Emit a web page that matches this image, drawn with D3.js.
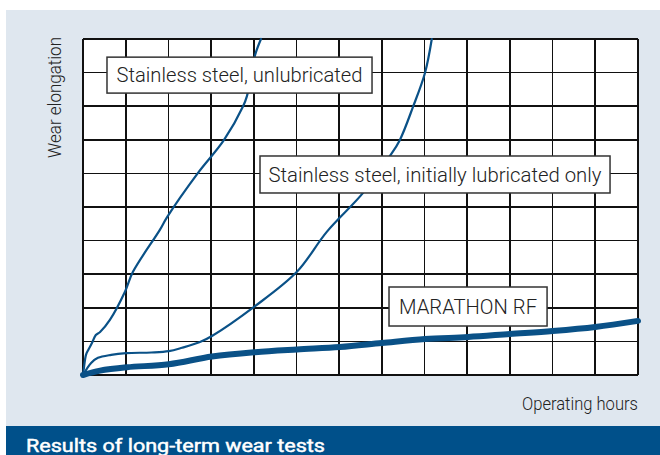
<!DOCTYPE html>
<html>
<head>
<meta charset="utf-8">
<script src="https://cdn.jsdelivr.net/npm/d3@7"></script>
<style>
  html, body { margin: 0; padding: 0; background: #ffffff; }
  svg { display: block; }
  text { font-family: Roboto, "Liberation Sans", "DejaVu Sans", sans-serif; }
</style>
</head>
<body>
<svg id="chart" width="660" height="455"></svg>
<script>
// ---- Data (grid units: columns of operating hours, rows of wear elongation) ----
const xGrid = d3.range(0, 14);   // 13 columns
const yGrid = d3.range(0, 11);   // 10 rows

const unlubX = [0, 0.02, 0.07, 0.12, 0.21, 0.30, 0.40, 0.63, 0.98, 1.17, 1.80, 1.97, 2.69, 3.30, 3.75, 3.84, 4.03, 4.17];
const unlubY = [0, 0.20, 0.60, 0.74, 0.95, 1.19, 1.28, 1.64, 2.47, 3.07, 4.32, 4.70, 6.01, 6.99, 8.00, 8.30, 9.52, 10.0];

const lubX = [0, 0.19, 0.35, 0.66, 1.01, 1.60, 2.01, 2.32, 2.74, 3.02, 4.03, 5.01, 5.71, 6.56, 7.19, 7.42, 7.73, 8.01, 8.17];
const lubY = [0, 0.36, 0.51, 0.60, 0.65, 0.67, 0.71, 0.81, 0.98, 1.16, 2.05, 3.07, 4.26, 5.42, 6.52, 6.99, 7.98, 8.99, 10.0];

const marX = [0, 0.40, 1.03, 2.01, 3.02, 4.03, 5.01, 6.02, 7.00, 8.01, 9.02, 10.0, 11.0, 12.0, 13.0];
const marY = [0, 0.13, 0.23, 0.32, 0.55, 0.68, 0.76, 0.83, 0.95, 1.07, 1.13, 1.22, 1.31, 1.43, 1.61];

const seriesNames = ["Stainless steel, unlubricated", "Stainless steel, initially lubricated only", "MARATHON RF"];
const xTitle = "Operating hours";
const yTitle = "Wear elongation";
const chartTitle = "Results of long-term wear tests";

// ---- Drawing ----
const svg = d3.select("#chart");
const W = 660, H = 455;
const panelBg = "#dfe7ef";
const bandBg = "#00508a";
const lineCol = "#0a5187";

svg.append("rect").attr("x", 6).attr("y", 10).attr("width", W - 6).attr("height", 416).attr("fill", panelBg);
svg.append("rect").attr("x", 6).attr("y", 426).attr("width", W - 6).attr("height", H - 426).attr("fill", bandBg);

const x = d3.scaleLinear().domain([0, 13]).range([83, 638]);
const y = d3.scaleLinear().domain([0, 10]).range([375, 39]);

// plot background
svg.append("rect")
  .attr("x", x(0)).attr("y", y(10))
  .attr("width", x(13) - x(0)).attr("height", y(0) - y(10))
  .attr("fill", "#ffffff");

const grid = svg.append("g").attr("stroke", "#111").attr("stroke-width", 1.7).attr("shape-rendering", "crispEdges");
grid.selectAll("line.v").data(xGrid).join("line").attr("class", "v")
  .attr("x1", d => x(d)).attr("x2", d => x(d)).attr("y1", y(0)).attr("y2", y(10));
grid.selectAll("line.h").data(yGrid).join("line").attr("class", "h")
  .attr("y1", d => y(d)).attr("y2", d => y(d)).attr("x1", x(0)).attr("x2", x(13));

const line = d3.line().x(d => x(d[0])).y(d => y(d[1])).curve(d3.curveCatmullRom.alpha(0.5));
const zip = (a, b) => a.map((v, i) => [v, b[i]]);

const curves = svg.append("g").attr("fill", "none").attr("stroke", lineCol)
  .attr("stroke-linecap", "round").attr("stroke-linejoin", "round");
curves.append("path").attr("d", line(zip(unlubX, unlubY))).attr("stroke-width", 2.2);
curves.append("path").attr("d", line(zip(lubX, lubY))).attr("stroke-width", 2.2);
curves.append("path").attr("d", line(zip(marX, marY))).attr("stroke-width", 6);

// label boxes (positions in grid units)
const labelBoxes = [
  { name: seriesNames[0], x0: 0.562, x1: 6.77, y0: 9.46, y1: 8.39, tl: 246 },
  { name: seriesNames[1], x0: 4.146, x1: 12.345, y0: 6.518, y1: 5.417, tl: 333 },
  { name: seriesNames[2], x0: 7.168, x1: 10.87, y0: 2.619, y1: 1.458, tl: 138 }
];
const lb = svg.append("g").selectAll("g").data(labelBoxes).join("g");
lb.append("rect")
  .attr("x", d => x(d.x0)).attr("y", d => y(d.y0))
  .attr("width", d => x(d.x1) - x(d.x0)).attr("height", d => y(d.y1) - y(d.y0))
  .attr("fill", "#fff").attr("stroke", "#333").attr("stroke-width", 1.5);
lb.append("text")
  .attr("x", d => (x(d.x0) + x(d.x1)) / 2)
  .attr("y", d => (y(d.y0) + y(d.y1)) / 2 + 7.3)
  .attr("text-anchor", "middle")
  .attr("font-size", 19.5).attr("font-weight", 300).attr("fill", "#222")
  .attr("textLength", d => d.tl).attr("lengthAdjust", "spacingAndGlyphs")
  .text(d => d.name);

// axis titles
svg.append("text")
  .attr("transform", "translate(60.5,158) rotate(-90)")
  .attr("font-size", 17.5).attr("font-weight", 300).attr("fill", "#222")
  .attr("textLength", 121).attr("lengthAdjust", "spacingAndGlyphs")
  .text(yTitle);

svg.append("text")
  .attr("x", 638).attr("y", 410)
  .attr("text-anchor", "end")
  .attr("font-size", 19).attr("font-weight", 300).attr("fill", "#222")
  .attr("textLength", 116).attr("lengthAdjust", "spacingAndGlyphs")
  .text(xTitle);

// title
svg.append("text")
  .attr("x", 26).attr("y", 452)
  .attr("font-size", 17.5).attr("font-weight", 400).attr("fill", "#fff")
  .attr("stroke", "#fff").attr("stroke-width", 0.45)
  .attr("textLength", 299).attr("lengthAdjust", "spacingAndGlyphs")
  .text(chartTitle);
</script>
</body>
</html>
